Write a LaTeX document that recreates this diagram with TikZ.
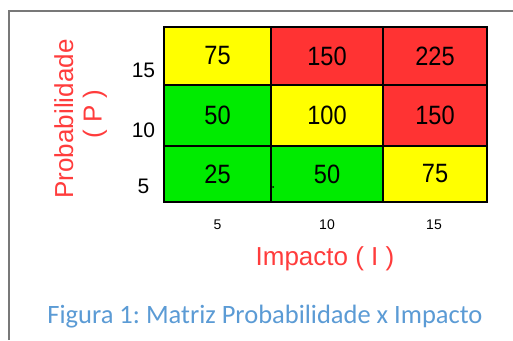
\documentclass[tikz,border=0pt]{standalone}
\usepackage{fontspec}
\setmainfont{Liberation Sans}
\newfontfamily\capfont{Carlito}
\newfontfamily\cellfont[FakeStretch=0.89]{Liberation Sans}
\definecolor{cyel}{RGB}{255,255,0}
\definecolor{cred}{RGB}{255,51,51}
\definecolor{cgrn}{RGB}{0,235,0}
\definecolor{lblred}{RGB}{255,60,60}
\definecolor{capblue}{RGB}{91,155,213}
\definecolor{framegray}{RGB}{120,120,120}
\begin{document}
\begin{tikzpicture}[x=1pt,y=-1pt,
  cell/.style={draw=black,line width=1.3pt,inner sep=0pt,text=black,
    font=\cellfont\fontsize{26.5}{30}\selectfont},
  colA/.style={minimum width=107pt},
  colB/.style={minimum width=112pt},
  colC/.style={minimum width=104pt},
  rowA/.style={minimum height=58pt},
  rowB/.style={minimum height=61pt},
  rowC/.style={minimum height=56pt},
  axlbl/.style={text=lblred,inner sep=0pt,font=\fontsize{26}{30}\selectfont},
  ytick/.style={anchor=base,inner sep=0pt,font=\fontsize{21}{24}\selectfont},
  xtick/.style={anchor=base,inner sep=0pt,font=\fontsize{14}{16}\selectfont},
  caption/.style={anchor=base,inner sep=0pt,text=capblue,font=\capfont\fontsize{26.5}{30}\selectfont\frenchspacing}
]
\useasboundingbox (0,0) rectangle (513,340);
\fill[white] (0,0) rectangle (513,340);
% frame
\coordinate (fbl) at (9,340);
\coordinate (ftl) at (9,11);
\coordinate (ftr) at (513,11);
\draw[framegray,line width=1.5pt] (fbl) -- (ftl) -- (ftr);
% cells
\node[cell,colA,rowA,fill=cyel] (a1) at (217.5,56) {75};
\node[cell,colB,rowA,fill=cred] (b1) at (327,56) {150};
\node[cell,colC,rowA,fill=cred] (c1) at (435,56) {225};
\node[cell,colA,rowB,fill=cgrn] (a2) at (217.5,115.5) {50};
\node[cell,colB,rowB,fill=cyel] (b2) at (327,115.5) {100};
\node[cell,colC,rowB,fill=cred] (c2) at (435,115.5) {150};
\node[cell,colA,rowC,fill=cgrn] (a3) at (217.5,174) {25};
\node[cell,colB,rowC,fill=cgrn] (b3) at (327,174) {50};
\node[cell,colC,rowC,fill=cyel] (c3) at (435,174) {75};
\fill (273,187) circle (1pt);
% y ticks
\node[ytick] (p15) at (143.5,77) {15};
\node[ytick] (p10) at (143.5,137) {10};
\node[ytick] (p5) at (143.5,193) {5};
% x ticks
\node[xtick] (i5) at (217.5,229) {5};
\node[xtick] (i10) at (327,229) {10};
\node[xtick] (i15) at (434,229) {15};
% axis labels
\node[axlbl,rotate=90,anchor=base] (ylab) at (73,119) {Probabilidade};
\node[axlbl,rotate=90,anchor=base] (ylab2) at (101.5,114) {( P )};
\node[axlbl,anchor=base] (xlab) at (325,265) {Impacto ( I )};
% caption
\node[caption] (cap) at (265,323) {Figura 1: Matriz Probabilidade x Impacto};
\end{tikzpicture}
\end{document}
